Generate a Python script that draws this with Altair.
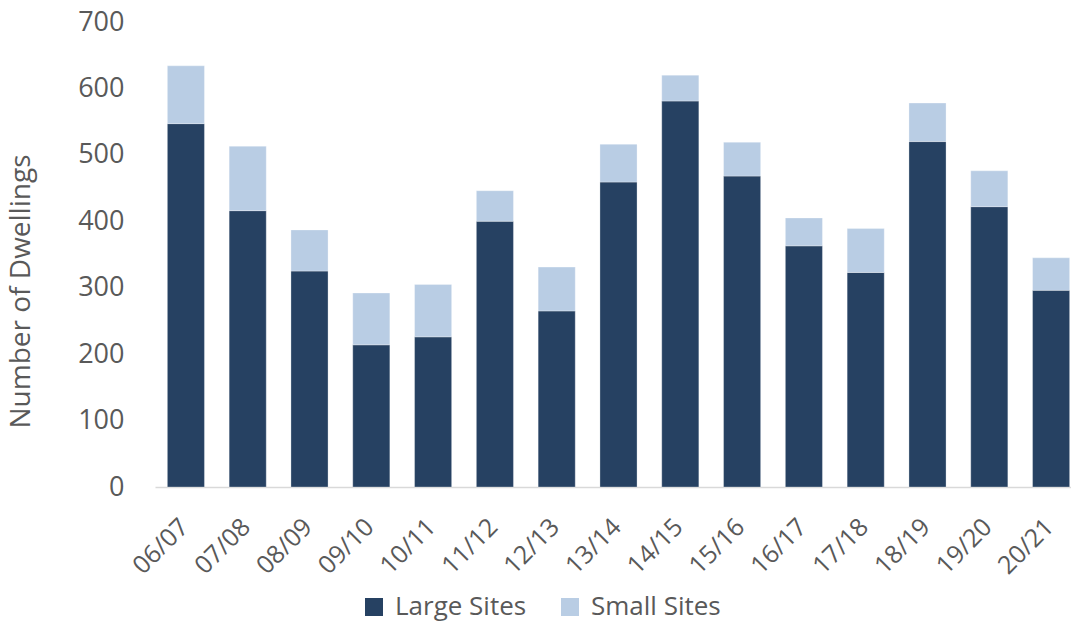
import altair as alt
import pandas as pd

years = ["06/07", "07/08", "08/09", "09/10", "10/11", "11/12", "12/13", "13/14",
         "14/15", "15/16", "16/17", "17/18", "18/19", "19/20", "20/21"]
large_sites = [547, 416, 325, 214, 226, 400, 265, 459, 581, 468, 363, 323, 520, 422, 296]
small_sites = [87, 97, 62, 78, 79, 46, 66, 57, 39, 51, 42, 66, 58, 54, 49]
series_names = ["Large Sites", "Small Sites"]
series_colors = ["#264162", "#B9CDE4"]
y_ticks = [0, 100, 200, 300, 400, 500, 600, 700]

rows = []
for i, yr in enumerate(years):
    rows.append({"year": yr, "series": series_names[0], "value": large_sites[i], "ord": 0})
    rows.append({"year": yr, "series": series_names[1], "value": small_sites[i], "ord": 1})
df = pd.DataFrame(rows)

FONT = "Open Sans"
TXT = "#595959"

bars = alt.Chart(df).mark_bar(stroke="#FFFFFF", strokeWidth=0.6, strokeOpacity=0.5).encode(
    x=alt.X("year:N", sort=years,
            scale=alt.Scale(range=[0, 927], paddingInner=0.4, paddingOuter=0.2),
            axis=alt.Axis(title=None, labelAngle=-45, labelFontSize=25, labelFont=FONT,
                          labelColor=TXT, ticks=False, domainColor="#D9D9D9",
                          domainWidth=1.5, labelPadding=27, labelOffset=-10)),
    y=alt.Y("value:Q", stack="zero",
            scale=alt.Scale(domain=[0, 700], nice=False),
            axis=alt.Axis(title="Number of Dwellings", values=y_ticks, grid=False,
                          domain=False, ticks=False, labelFontSize=27, labelFont=FONT,
                          labelColor=TXT, labelPadding=31,
                          titleFontSize=28, titleFont=FONT, titleColor=TXT,
                          titleFontWeight="normal", titleY=269, titleX=-120)),
    color=alt.Color("series:N", scale=alt.Scale(domain=series_names, range=series_colors),
                    legend=alt.Legend(title=None, orient="none", direction="horizontal",
                                      legendX=206, legendY=572, symbolType="square",
                                      symbolSize=324, symbolStrokeWidth=0,
                                      labelFontSize=26, labelFont=FONT, labelColor=TXT,
                                      labelOffset=8, columnPadding=30, padding=0)),
    order=alt.Order("ord:Q", sort="ascending"),
)

chart = bars.properties(
    width=916, height=465,
    padding={"left": 155, "top": 22, "right": 0, "bottom": 136},
    autosize="none",
    background="white",
).configure_view(stroke=None)

chart.save("out.html", embed_options={"renderer": "svg", "actions": False})
